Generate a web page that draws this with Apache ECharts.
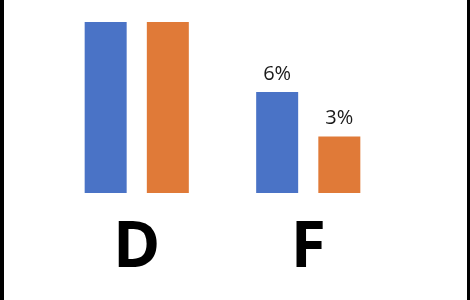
<!DOCTYPE html>
<html><head><meta charset="utf-8">
<script src="https://cdn.jsdelivr.net/npm/echarts@6/dist/echarts.min.js"></script>
<style>
html,body{margin:0;padding:0;background:#fff;}
#wrap{width:470px;height:300px;position:relative;}
#chart{width:470px;height:300px;position:absolute;left:0;top:0;}
#bl{position:absolute;left:0;top:0;width:4px;height:300px;background:#000;}
#br{position:absolute;right:0;top:0;width:3px;height:300px;background:#000;}
</style></head>
<body><div id="wrap"><div id="chart"></div><div id="bl"></div><div id="br"></div></div>
<script>
const categories = ['D', 'F'];
const seriesA = [10, 5.9];
const seriesB = [10, 3.3];
const colors = ['#4A73C6', '#E07A38'];

const chart = echarts.init(document.getElementById('chart'));
const label = {
  show: true, position: 'top', distance: 8,
  fontFamily: 'Open Sans', fontSize: 20, color: '#1a1a1a',
  formatter: p => Math.round(p.value) + '%'
};
const toItems = arr => arr.map((v, i) => i === 0
  ? {value: v, label: {offset: [0, -12], color: '#ececec'}}
  : v);
chart.setOption({
  animation: false,
  backgroundColor: '#fff',
  grid: {left: 51, right: 76, top: 22, bottom: 107, containLabel: false},
  xAxis: {
    type: 'category', data: categories,
    axisLine: {show: false}, axisTick: {show: false},
    axisLabel: {fontFamily: 'Open Sans', fontWeight: 'bold', fontSize: 64, color: '#000', margin: 24}
  },
  yAxis: {type: 'value', min: 0, max: 10, show: false, splitLine: {show: false}},
  series: [
    {type: 'bar', data: toItems(seriesA), barWidth: 42, barGap: '48%', itemStyle: {color: colors[0]}, label: label},
    {type: 'bar', data: toItems(seriesB), barWidth: 42, itemStyle: {color: colors[1]}, label: label}
  ]
});
</script></body></html>
